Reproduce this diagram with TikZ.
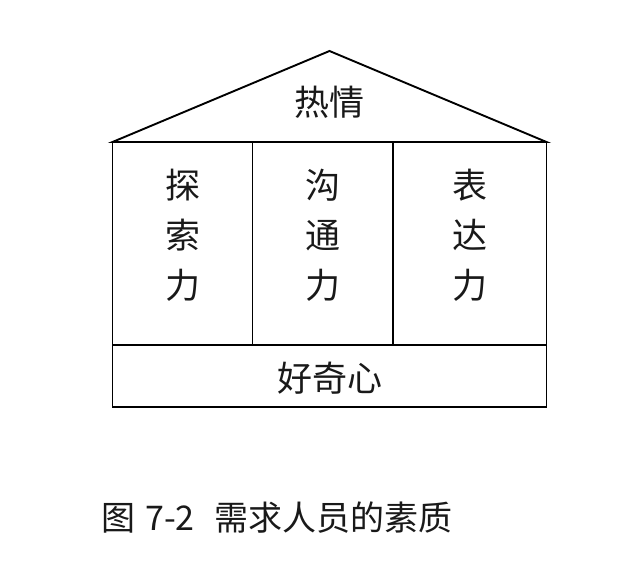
\documentclass[tikz,border=0pt]{standalone}
\usepackage{fontspec}
\setmainfont{Noto Sans CJK SC}
\begin{document}
\begin{tikzpicture}[x=1pt,y=-1pt,
  frame/.style={draw=black,line width=1.9pt,line join=miter},
  label/.style={inner sep=0pt,font=\fontsize{35}{50}\selectfont,text=black!90},
  col/.style={label,align=center}]
\useasboundingbox (0,0) rectangle (624,568);
\coordinate (apex) at (329.5,51);
\coordinate (tl) at (112.5,142);
\coordinate (tr) at (546.5,142);
\coordinate (ml) at (112.5,345);
\coordinate (mr) at (546.5,345);
\coordinate (bl) at (112.5,407);
\coordinate (br) at (546.5,407);
\coordinate (d1t) at (252.5,142);
\coordinate (d1b) at (252.5,345);
\coordinate (d2t) at (393,142);
\coordinate (d2b) at (393,345);
\draw[frame] (tl) -- (apex) -- (tr) -- cycle;
\draw[frame] (tl) rectangle (br);
\draw[frame] (ml) -- (mr);
\draw[frame] (d1t) -- (d1b);
\draw[frame] (d2t) -- (d2b);
\node[label] (roof) at (329.5,102) {热情};
\node[col] (c1) at (182.5,235) {探\\索\\力};
\node[col] (c2) at (322.5,235) {沟\\通\\力};
\node[col] (c3) at (470,235) {表\\达\\力};
\node[label] (base) at (329.5,378) {好奇心};
\node[inner sep=0pt,anchor=west,font=\fontsize{34}{40}\selectfont,text=black!90] (cap) at (101,518) {图\hspace{10pt}7-2\hspace{20pt}需求人员的素质};
\end{tikzpicture}
\end{document}
